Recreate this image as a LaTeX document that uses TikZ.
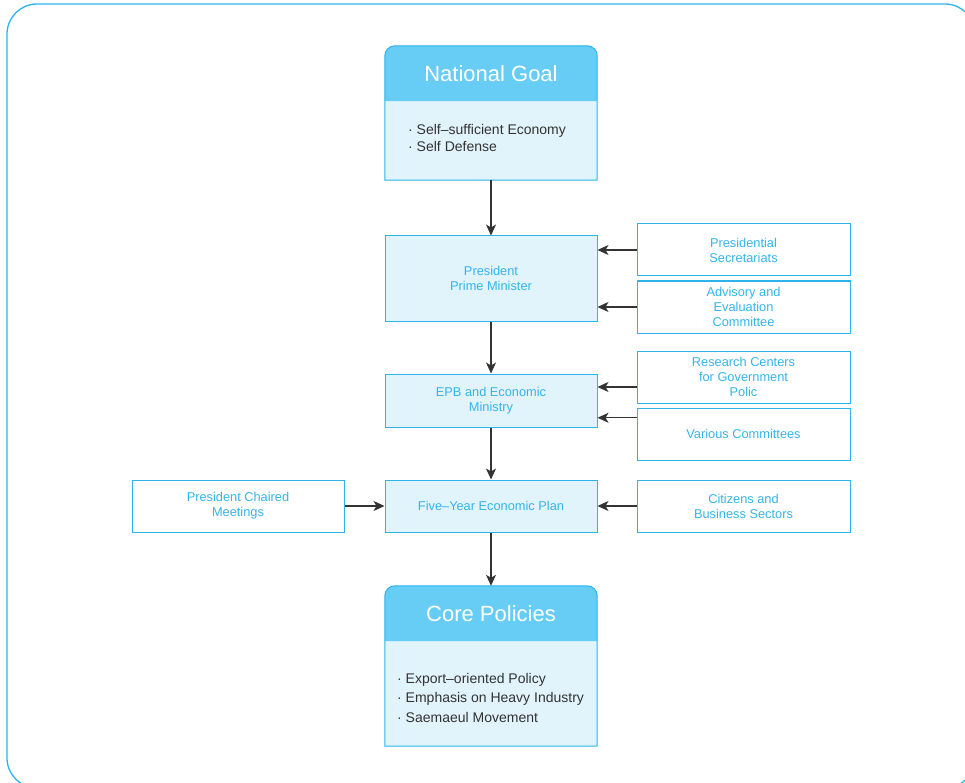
\documentclass[tikz,border=0pt]{standalone}
\usepackage{fontspec}
\setmainfont{Liberation Sans}
\usepackage{tikz}
\usetikzlibrary{positioning,calc,arrows.meta}
\definecolor{skyline}{HTML}{2DB4EA}
\definecolor{headblue}{HTML}{67CDF5}
\definecolor{paleblue}{HTML}{E1F3FB}
\definecolor{skytext}{HTML}{35B5EA}
\definecolor{darktext}{HTML}{333333}
\definecolor{wiregray}{HTML}{333333}
\pgfdeclarelayer{background}
\pgfsetlayers{background,main}

\tikzset{
  stagebox/.style={draw=skyline, line width=1pt, fill=paleblue, text=skytext,
    minimum width=212pt, inner sep=0pt, align=center,
    font=\fontsize{12.8}{15}\selectfont},
  sidebox/.style={stagebox, fill=white, minimum width=213pt, minimum height=52pt},
  goalbox/.style={minimum width=212pt, inner sep=0pt},
  headtext/.style={minimum width=212pt, minimum height=55pt, inner sep=0pt,
    text=white, font=\fontsize{22}{26}\selectfont},
  listtext/.style={anchor=north west, inner sep=0pt, align=left, text=darktext},
  flow/.style={draw=wiregray, line width=1.1pt, -{Stealth[length=11pt,width=10pt,inset=3pt]}}
}

\begin{document}
\begin{tikzpicture}[x=1pt, y=-1pt]
  \useasboundingbox (0,0) rectangle (965,783);
  % outer frame, runs off the page at right and bottom
  \draw[skyline, line width=1.3pt, rounded corners=30pt] (7,4) rectangle (975,788);

  % main column (x = 385 .. 597)
  \node[goalbox, minimum height=134pt] (ng) at (491,113) {};
  \node[headtext] (ngHead) at (491,73.5) {National Goal};
  \node[listtext, font=\fontsize{14}{17}\selectfont] (ngList) at (408,124)
    {· Self--sufficient Economy\\· Self Defense};

  \node[stagebox, minimum height=85pt] (pres) at (491,278.5) {President\\Prime Minister};
  \node[stagebox, minimum height=53pt] (epb) at (491,400.5) {EPB and Economic\\Ministry};
  \node[stagebox, minimum height=52pt] (plan) at (491,506) {Five--Year Economic Plan};

  \node[goalbox, minimum height=160pt] (core) at (491,666) {};
  \node[headtext] (coreHead) at (491,613.5) {Core Policies};
  \node[listtext, font=\fontsize{14}{19.5}\selectfont] (coreList) at (397,673)
    {· Export--oriented Policy\\· Emphasis on Heavy Industry\\· Saemaeul Movement};

  % side boxes
  \node[sidebox] (sec) at (743.5,250) {Presidential\\Secretariats};
  \node[sidebox] (adv) at (743.5,307) {Advisory and\\Evaluation\\Committee};
  \node[sidebox] (res) at (743.5,377) {Research Centers\\for Government\\Polic};
  \node[sidebox] (com) at (743.5,434) {Various Committees};
  \node[sidebox] (cit) at (743.5,506) {Citizens and\\Business Sectors};
  \node[sidebox, minimum width=212pt] (meet) at (238,506) {President Chaired\\Meetings};

  % header boxes: pale body, blue cap, rounded top corners only
  \begin{pgfonlayer}{background}
    \foreach \b in {ng, core} {
      \fill[paleblue] (\b.south west) [rounded corners=10pt] -- (\b.north west)
        -- (\b.north east) [sharp corners] -- (\b.south east) -- cycle;
      \fill[headblue] (\b Head.south west) [rounded corners=10pt] -- (\b Head.north west)
        -- (\b Head.north east) [sharp corners] -- (\b Head.south east) -- cycle;
      \draw[skyline, line width=1pt] (\b.south west) [rounded corners=10pt] -- (\b.north west)
        -- (\b.north east) [sharp corners] -- (\b.south east) -- cycle;
    }
  \end{pgfonlayer}

  % flow down the column
  \draw[flow] (ng) -- (pres);
  \draw[flow] (pres) -- (epb);
  \draw[flow] (epb) -- (plan);
  \draw[flow] (plan) -- (core);

  % inputs from the side
  \coordinate (epbInA) at ($(epb.north east)!0.25!(epb.south east)$);
  \coordinate (epbInB) at ($(epb.north east)!0.82!(epb.south east)$);
  \draw[flow] (sec.west) -- (sec.west -| pres.east);
  \draw[flow] (adv.west) -- (adv.west -| pres.east);
  \draw[flow] (epbInA -| res.west) -- (epbInA);
  \draw[flow] (epbInB -| com.west) -- (epbInB);
  \draw[flow] (cit) -- (plan);
  \draw[flow] (meet) -- (plan);
\end{tikzpicture}
\end{document}
